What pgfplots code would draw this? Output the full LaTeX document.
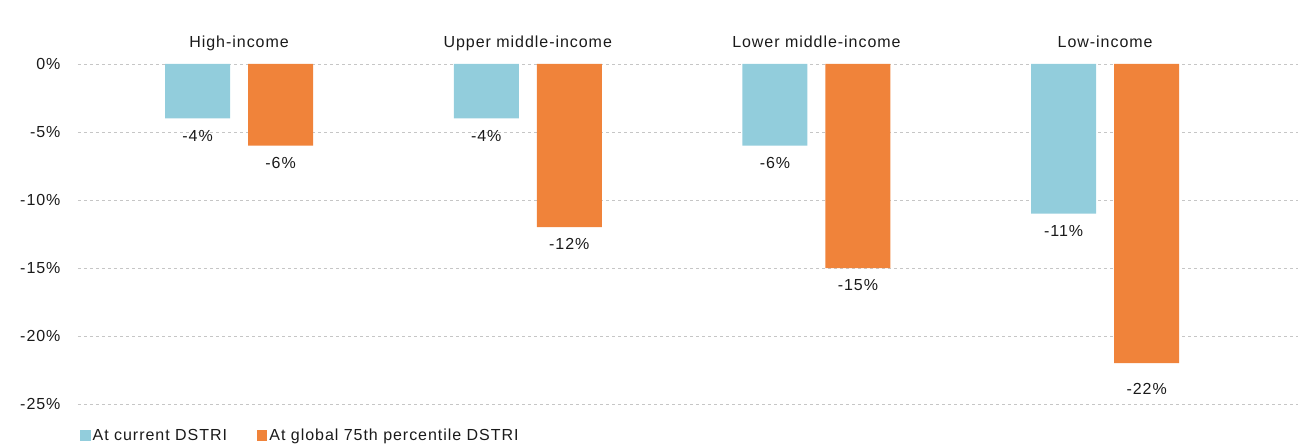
\documentclass[border=0pt]{standalone}
\usepackage{pgfplots}
\usepackage{pgfplotstable}
\pgfplotsset{compat=1.18}
\usepackage{fontspec}
\setmainfont[LetterSpace=6]{Liberation Sans}
\definecolor{cblue}{HTML}{92CDDC}
\definecolor{corange}{HTML}{F0833A}
\definecolor{txt}{HTML}{1A1A1A}
\pgfplotstableread{
x y sh
0 -4 -8
1 -4 -8
2 -6 -8
3 -11 -8
}\currenttab
\pgfplotstableread{
x y sh
0 -6 -8
1 -12 -8
2 -15 -8
3 -22 -17
}\globaltab
\begin{document}
\begin{tikzpicture}[font=\fontsize{16}{19}\selectfont, text=txt]
\path[use as bounding box] (-78pt,-43pt) rectangle (1220pt,404pt);
\begin{axis}[
  at={(0,0)}, anchor=south west,
  scale only axis, width=1220pt, height=340pt,
  xmin=-0.558, xmax=3.668, ymin=-25, ymax=0,
  ybar=18pt, bar width=65pt,
  axis line style={draw=none},
  major tick length=0pt,
  xtick=data,
  xticklabels={High-income, Upper middle-income, Lower middle-income, Low-income},
  xticklabel pos=upper,
  xticklabel style={yshift=11pt, text height=1.5ex, text depth=0.3ex},
  ytick={0,-5,-10,-15,-20,-25},
  /pgf/number format/assume math mode=true,
  yticklabel={\pgfmathprintnumber{\tick}\%},
  yticklabel style={xshift=-14pt},
  ymajorgrids,
  grid style={dashed, gray!45, line width=0.6pt},
  visualization depends on={\thisrow{sh} \as \sh},
  nodes near coords={\pgfmathprintnumber{\pgfplotspointmeta}\%},
  every node near coord/.append style={yshift=\sh pt},
  legend style={at={(0,0)}, anchor=north west, yshift=-21pt, xshift=-1pt, draw=none, fill=none,
    legend columns=2, /tikz/every even column/.append style={column sep=28pt}},
  legend image code/.code={\fill[#1] (0pt,-5pt) rectangle (10.5pt,5.5pt);},
]
\addplot[fill=cblue, draw=none] table[x=x, y=y] {\currenttab};
\addplot[fill=corange, draw=none] table[x=x, y=y] {\globaltab};
\legend{At current DSTRI, At global 75th percentile DSTRI}
\end{axis}
\end{tikzpicture}
\end{document}
